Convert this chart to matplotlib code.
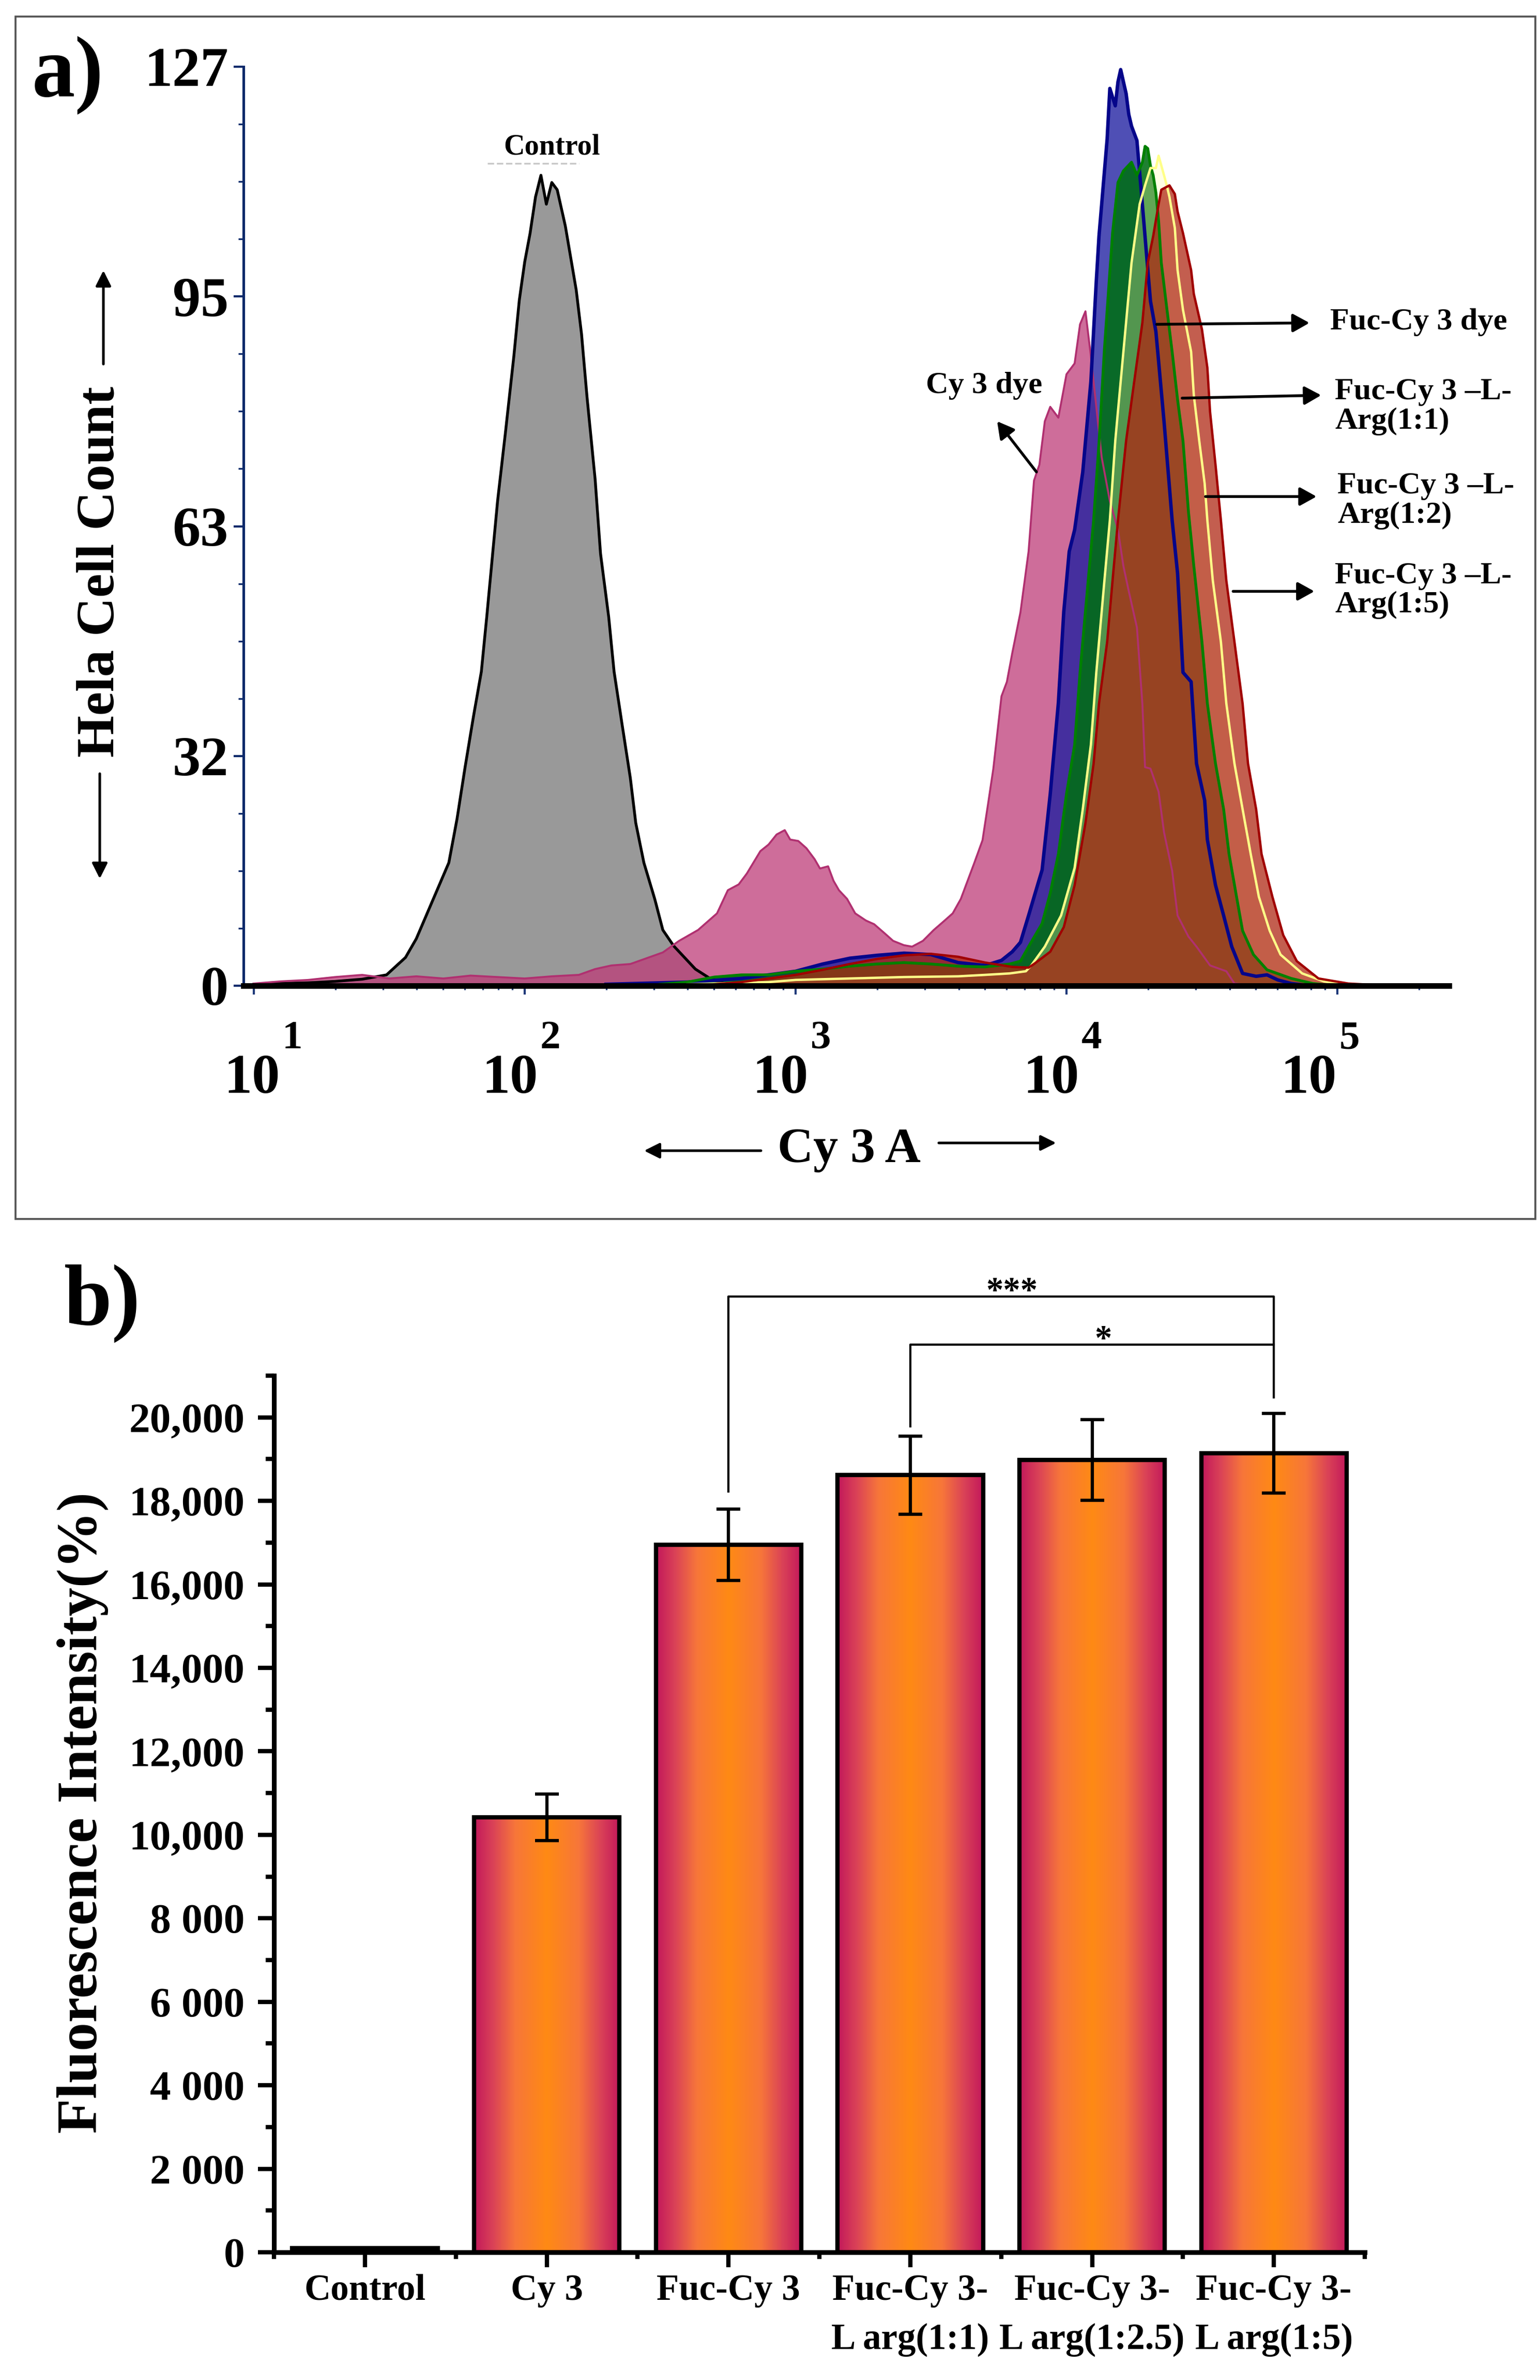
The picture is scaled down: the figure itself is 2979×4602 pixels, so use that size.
import numpy as np
import matplotlib
matplotlib.use("Agg")
import matplotlib.pyplot as plt
from matplotlib.colors import LinearSegmentedColormap
from matplotlib.patches import FancyArrowPatch, Rectangle
from matplotlib.ticker import FixedLocator, MultipleLocator, NullFormatter

plt.rcParams['font.family'] = ['Liberation Serif', 'DejaVu Serif']
plt.rcParams['font.weight'] = 'bold'

W, H, DPI = 2979, 4602, 300

# ---------------- panel a: Cy3-A histograms (x = log10 of Cy3-A, y = Hela cell count)
ctrl_log = [1.00, 1.10, 1.20, 1.30, 1.40, 1.49, 1.56, 1.60, 1.64, 1.68, 1.72, 1.75, 1.78, 1.81,
            1.84, 1.86, 1.88, 1.90, 1.93, 1.96, 1.98, 2.00, 2.02, 2.04, 2.06, 2.08, 2.10, 2.12,
            2.15, 2.19, 2.21, 2.23, 2.26, 2.28, 2.31, 2.33, 2.36, 2.39, 2.41, 2.44, 2.48, 2.51,
            2.55, 2.59, 2.63, 2.68, 2.72, 2.76]
ctrl_cnt = [0.2, 0.3, 0.4, 0.6, 0.9, 1.5, 3.9, 6.5, 10.0, 13.5, 17.0, 23.0, 30.2, 37.0,
            43.4, 51.0, 59.0, 67.0, 76.8, 87.0, 94.7, 100.0, 104.0, 109.0, 112.0, 108.0, 111.0, 110.0,
            105.0, 96.2, 90.0, 81.4, 70.0, 59.7, 51.0, 43.4, 36.0, 28.7, 22.5, 17.0, 12.0, 7.7,
            5.5, 3.9, 2.3, 1.1, 0.5, 0.0]

cy3_log = [1.00, 1.10, 1.20, 1.30, 1.40, 1.50, 1.60, 1.70, 1.80, 1.90, 2.00, 2.10, 2.20, 2.26,
           2.32, 2.39, 2.45, 2.51, 2.57, 2.64, 2.71, 2.75, 2.79, 2.82, 2.87, 2.90, 2.93, 2.96,
           2.98, 3.01, 3.04, 3.07, 3.09, 3.12, 3.14, 3.16, 3.19, 3.22, 3.26, 3.29, 3.33, 3.36,
           3.40, 3.43, 3.47, 3.51, 3.55, 3.58, 3.61, 3.63, 3.66, 3.69, 3.71, 3.73, 3.76, 3.78,
           3.80, 3.83, 3.86, 3.88, 3.90, 3.92, 3.94, 3.97, 4.00, 4.03, 4.05, 4.07, 4.09, 4.11,
           4.13, 4.16, 4.19, 4.21, 4.23, 4.26, 4.28, 4.29, 4.31, 4.34, 4.36, 4.39, 4.41, 4.45,
           4.48, 4.53, 4.59, 4.62, 4.70]
cy3_cnt = [0.3, 0.6, 0.8, 1.2, 1.5, 1.0, 1.3, 1.0, 1.4, 1.2, 1.0, 1.3, 1.5, 2.3,
           2.8, 3.0, 3.8, 4.6, 6.2, 7.7, 10.0, 13.2, 14.0, 15.5, 18.6, 19.5, 20.9, 21.5,
           20.2, 20.0, 19.0, 17.5, 16.2, 16.5, 14.5, 13.2, 12.0, 10.0, 9.0, 8.5, 7.2, 6.2,
           5.6, 5.4, 6.2, 7.7, 9.0, 10.0, 12.0, 14.0, 17.0, 20.1, 25.0, 30.0, 40.0, 42.0,
           46.0, 51.6, 60.0, 69.8, 72.0, 78.0, 80.0, 78.5, 84.5, 86.0, 91.4, 93.2, 87.0, 80.0,
           73.0, 67.0, 63.0, 58.0, 54.5, 49.5, 39.0, 30.2, 30.0, 26.8, 21.2, 15.9, 9.7, 6.8,
           5.4, 2.8, 2.0, 0.3, 0.0]

fuc_log = [2.30, 2.60, 2.80, 2.90, 3.00, 3.10, 3.20, 3.30, 3.40, 3.50, 3.60, 3.70, 3.76, 3.80,
           3.83, 3.86, 3.89, 3.91, 3.94, 3.97, 3.99, 4.01, 4.03, 4.06, 4.09, 4.11, 4.12, 4.15,
           4.16, 4.18, 4.19, 4.20, 4.22, 4.23, 4.24, 4.26, 4.28, 4.30, 4.31, 4.33, 4.36, 4.39,
           4.41, 4.43, 4.46, 4.48, 4.51, 4.52, 4.55, 4.58, 4.61, 4.65, 4.70, 4.74, 4.78, 4.83,
           4.90]
fuc_cnt = [0.2, 0.5, 1.0, 1.5, 2.0, 3.0, 3.8, 4.2, 4.5, 4.3, 3.2, 2.8, 3.5, 4.7,
           6.0, 9.7, 13.5, 16.0, 26.5, 39.1, 51.7, 60.0, 63.0, 71.0, 83.5, 97.4, 103.6, 117.0,
           124.0, 121.6, 124.9, 126.6, 123.3, 120.4, 118.8, 116.8, 108.0, 99.0, 94.6, 90.4, 78.0, 64.3,
           57.0, 43.3, 42.0, 30.7, 25.6, 20.2, 13.9, 9.7, 5.4, 1.7, 1.3, 1.5, 0.8, 0.3,
           0.0]

arg11_log = [2.50, 2.60, 2.70, 2.80, 2.90, 3.00, 3.10, 3.20, 3.30, 3.40, 3.50, 3.60, 3.70, 3.79,
             3.83, 3.86, 3.91, 3.94, 3.97, 4.00, 4.03, 4.05, 4.08, 4.10, 4.12, 4.14, 4.17, 4.19,
             4.21, 4.24, 4.26, 4.28, 4.29, 4.30, 4.31, 4.32, 4.33, 4.34, 4.35, 4.37, 4.39, 4.41,
             4.43, 4.45, 4.47, 4.50, 4.52, 4.55, 4.58, 4.60, 4.63, 4.65, 4.69, 4.74, 4.83, 4.91,
             5.00]
arg11_cnt = [0.2, 0.5, 1.2, 1.5, 1.5, 2.0, 2.3, 2.7, 3.0, 3.2, 3.0, 2.7, 2.6, 3.0,
             3.4, 5.4, 8.6, 12.8, 18.2, 26.5, 33.3, 43.3, 56.0, 64.3, 75.0, 88.0, 104.0, 111.0,
             112.6, 113.8, 112.0, 113.8, 116.0, 115.7, 113.3, 112.0, 109.6, 105.7, 99.9, 93.7, 87.6, 81.0,
             75.3, 65.6, 58.0, 47.5, 39.0, 30.7, 24.4, 18.2, 11.8, 7.6, 4.3, 2.2, 1.0, 0.3,
             0.0]

arg12_log = [2.60, 2.70, 2.90, 3.00, 3.20, 3.40, 3.60, 3.70, 3.79, 3.85, 3.87, 3.92, 3.98, 4.03,
             4.06, 4.09, 4.11, 4.14, 4.16, 4.18, 4.21, 4.24, 4.27, 4.29, 4.31, 4.33, 4.34, 4.36,
             4.37, 4.38, 4.40, 4.41, 4.43, 4.46, 4.47, 4.49, 4.51, 4.52, 4.54, 4.57, 4.59, 4.62,
             4.65, 4.68, 4.71, 4.75, 4.79, 4.87, 4.95, 5.05]
arg12_cnt = [0.2, 0.3, 0.5, 0.8, 1.0, 1.2, 1.3, 1.5, 1.7, 2.0, 2.8, 5.4, 9.7, 16.3,
             24.4, 33.3, 43.3, 56.0, 64.3, 75.3, 87.6, 99.9, 108.0, 110.6, 113.0, 113.0, 114.7, 112.0,
             110.6, 109.0, 104.7, 98.9, 93.4, 87.6, 81.6, 75.3, 69.4, 64.3, 56.0, 47.5, 39.0, 30.7,
             24.4, 18.2, 12.3, 7.6, 4.3, 1.7, 0.6, 0.0]

arg15_log = [2.70, 2.80, 2.90, 3.00, 3.10, 3.20, 3.30, 3.40, 3.50, 3.60, 3.70, 3.80, 3.86, 3.88,
             3.94, 3.99, 4.03, 4.07, 4.10, 4.12, 4.15, 4.17, 4.19, 4.22, 4.25, 4.28, 4.30, 4.32,
             4.34, 4.35, 4.38, 4.40, 4.41, 4.43, 4.46, 4.47, 4.50, 4.52, 4.53, 4.55, 4.57, 4.59,
             4.62, 4.65, 4.67, 4.70, 4.72, 4.76, 4.80, 4.85, 4.93, 5.04, 5.14, 5.25]
arg15_cnt = [0.2, 0.5, 1.0, 1.5, 2.2, 3.0, 3.7, 4.2, 4.4, 4.0, 3.2, 2.6, 2.5, 3.0,
             4.7, 8.1, 13.9, 22.5, 30.7, 39.0, 47.5, 56.0, 64.3, 75.3, 83.5, 91.6, 99.9, 103.6,
             108.0, 110.0, 110.6, 109.4, 107.0, 104.0, 98.9, 95.6, 90.7, 85.4, 79.3, 72.0, 64.3, 56.0,
             47.5, 39.0, 30.7, 24.4, 18.2, 12.3, 7.0, 3.4, 1.0, 0.3, 0.1, 0.0]

count_ticks = [0, 31.75, 63.5, 95.25, 127]
count_labels = ['0', '32', '63', '95', '127']

# ---------------- panel b: mean fluorescence intensity
groups = ['Control', 'Cy 3', 'Fuc-Cy 3', 'Fuc-Cy 3-\nL arg(1:1)',
          'Fuc-Cy 3-\nL arg(1:2.5)', 'Fuc-Cy 3-\nL arg(1:5)']
intensity = [100, 10420, 16950, 18620, 18980, 19140]
intensity_err = [0, 560, 850, 935, 965, 950]
int_ticks = [0, 2000, 4000, 6000, 8000, 10000, 12000, 14000, 16000, 18000, 20000]
int_labels = ['0', '2 000', '4 000', '6 000', '8 000', '10,000', '12,000',
              '14,000', '16,000', '18,000', '20,000']


def fx(px):
    return px / W


def fy(py):
    return 1 - py / H


fig = plt.figure(figsize=(W / DPI, H / DPI), dpi=DPI)
fig.patch.set_facecolor('white')

# frame around panel a
fig.add_artist(Rectangle((fx(30), fy(2357)), fx(2970) - fx(30), fy(32) - fy(2357),
                         transform=fig.transFigure, fill=False, ec='#555555', lw=0.9))

# ================= panel a
ax = fig.add_axes([fx(471), fy(1906), (2803 - 471) / W, (1906 - 129) / H])
ax.set_xscale('log')

curves = [
    (ctrl_log, ctrl_cnt, '#999999', 1.0, 'black', 1.3),
    (cy3_log, cy3_cnt, (190/255, 60/255, 120/255), 0.75, '#B03070', 0.9),
    (fuc_log, fuc_cnt, (30/255, 30/255, 160/255), 0.78, '#06068A', 1.6),
    (arg11_log, arg11_cnt, (0, 110/255, 20/255), 0.88, '#008000', 1.3),
    (arg12_log, arg12_cnt, (1, 1, 170/255), 0.30, '#FFFF88', 1.1),
    (arg15_log, arg15_cnt, (175/255, 40/255, 20/255), 0.75, '#A00000', 1.1),
]
for i, (lg, cnt, fc, a, ec, lw) in enumerate(curves):
    ax.fill_between(10 ** np.array(lg), 0, cnt, color=fc, alpha=a, lw=0, zorder=1 + i)
for i, (lg, cnt, fc, a, ec, lw) in enumerate(curves):
    ax.plot(10 ** np.array(lg), cnt, color=ec, lw=lw, zorder=10 + i)

ax.set_xlim(10 ** 0.962, 10 ** 5.412)
ax.set_ylim(0, 127)
for s in ['top', 'right']:
    ax.spines[s].set_visible(False)
ax.spines['left'].set_color('#0D2A6B')
ax.spines['left'].set_linewidth(1.2)
ax.spines['bottom'].set_color('black')
ax.spines['bottom'].set_linewidth(2.6)
ax.spines['bottom'].set_zorder(30)

ax.xaxis.set_major_locator(FixedLocator([10.0 ** k for k in range(1, 6)]))
ax.xaxis.set_minor_locator(FixedLocator([m * 10.0 ** k for k in range(0, 6) for m in range(2, 10)]))
ax.xaxis.set_major_formatter(NullFormatter())
ax.xaxis.set_minor_formatter(NullFormatter())
ax.tick_params(axis='x', which='major', direction='out', length=4, width=1.0, color='#1F3A7A')
ax.tick_params(axis='x', which='minor', direction='out', length=2, width=0.8, color='#1F3A7A')

ax.set_yticks(count_ticks)
ax.set_yticklabels(count_labels, fontsize=26)
ax.yaxis.set_minor_locator(MultipleLocator(31.75 / 4))
ax.tick_params(axis='y', which='major', direction='out', length=4.5, width=1.0, color='#0D2A6B', pad=2.5)
ax.tick_params(axis='y', which='minor', direction='out', length=2.5, width=0.8, color='#0D2A6B')

# decade labels 10^k
tens_x = [487, 986, 1510, 2034, 2532]
for k, px in zip(range(1, 6), tens_x):
    fig.text(fx(px), fy(2113), '10', fontsize=26, ha='center', va='baseline')
    fig.text(fx(px + 78), fy(2027), str(k), fontsize=19, ha='center', va='baseline')

# axis titles with arrows
fig.text(fx(195), fy(1105), 'Hela Cell Count', rotation=90, fontsize=25, ha='center', va='center')
fig.text(fx(1642), fy(2247), 'Cy 3 A', fontsize=23, ha='center', va='baseline')
arrow_kw = dict(transform=fig.transFigure, arrowstyle='-|>,head_length=0.6,head_width=0.3',
                mutation_scale=10, lw=1.2, color='black', shrinkA=0, shrinkB=0)
for tail, head in [((200, 704), (200, 523)), ((193, 1496), (193, 1699)),
                   ((1472, 2225), (1246, 2225)), ((1816, 2210), (2043, 2210))]:
    fig.add_artist(FancyArrowPatch((fx(tail[0]), fy(tail[1])), (fx(head[0]), fy(head[1])), **arrow_kw))

# curve annotations
ax.text(10 ** 2.10, 115.9, 'Control', fontsize=13.5, ha='center', va='center', zorder=40)
ax.plot([10 ** 1.863, 10 ** 2.201], [113.6, 113.6], color='#C8C8C8', ls='--', lw=0.8, zorder=40)
ax.text(10 ** 3.696, 82.9, 'Cy 3 dye', fontsize=14.5, ha='center', va='center', zorder=40)

notes = [
    ('Fuc-Cy 3 dye', 4.974, 91.7, (4.333, 91.4), (4.897, 91.6)),
    ('Fuc-Cy 3 \u2013L-\nArg(1:1)', 4.991, 80.0, (4.427, 81.2), (4.940, 81.6)),
    ('Fuc-Cy 3 \u2013L-\nArg(1:2)', 5.000, 67.0, (4.513, 67.6), (4.923, 67.6)),
    ('Fuc-Cy 3 \u2013L-\nArg(1:5)', 4.991, 54.6, (4.615, 54.5), (4.915, 54.5)),
]
akw = dict(arrowstyle='-|>,head_length=0.65,head_width=0.36', mutation_scale=10,
           lw=1.3, color='black', shrinkA=0, shrinkB=0)
for txt, lx, ly, tail, head in notes:
    ax.text(10 ** lx, ly, txt, fontsize=14.5, ha='left', va='center', linespacing=1.05,
            zorder=40, clip_on=False)
    ax.annotate('', xy=(10 ** head[0], head[1]), xytext=(10 ** tail[0], tail[1]),
                arrowprops=akw, zorder=40, annotation_clip=False)
ax.annotate('', xy=(10 ** 3.744, 78.0), xytext=(10 ** 3.889, 71.0), arrowprops=akw, zorder=40)

fig.text(fx(62), fy(70), 'a)', fontsize=40, ha='left', va='top')

# ================= panel b
bx = fig.add_axes([fx(530), fy(4355), (2640 - 530) / W, (4355 - 2660) / H])
xpos = np.arange(len(groups))
bw = 0.8
bar_cmap = LinearSegmentedColormap.from_list('bar', [
    (0.0, '#C2185B'), (0.13, '#DA4257'), (0.28, '#F7763A'), (0.5, '#FF8A14'),
    (0.72, '#F7763A'), (0.87, '#DA4257'), (1.0, '#C2185B')])
grad = np.linspace(0, 1, 256).reshape(1, -1)
for xi, v in zip(xpos, intensity):
    bx.imshow(grad, cmap=bar_cmap, aspect='auto', interpolation='bilinear',
              extent=[xi - bw / 2, xi + bw / 2, 0, v], zorder=2)
bx.bar(xpos, intensity, width=bw, fill=False, edgecolor='black', lw=2.0, zorder=3)
bx.errorbar(xpos[1:], intensity[1:], yerr=intensity_err[1:], fmt='none', ecolor='black',
            elinewidth=1.5, capsize=5.5, capthick=1.5, zorder=4)

bx.set_xlim(-0.5, 5.5)
bx.set_ylim(0, 21000)
for s in ['top', 'right']:
    bx.spines[s].set_visible(False)
for s in ['left', 'bottom']:
    bx.spines[s].set_linewidth(2.2)
    bx.spines[s].set_zorder(5)

bx.set_yticks(int_ticks)
bx.set_yticklabels(int_labels, fontsize=19.5)
bx.yaxis.set_minor_locator(MultipleLocator(1000))
bx.tick_params(axis='y', which='major', direction='out', length=7.5, width=2.0, pad=6)
bx.tick_params(axis='y', which='minor', direction='out', length=3.8, width=2.0)
bx.set_xticks(xpos)
bx.set_xticklabels(groups, fontsize=17, linespacing=1.6)
bx.xaxis.set_minor_locator(FixedLocator(np.arange(-0.5, 6.0, 1.0)))
bx.tick_params(axis='x', which='major', direction='out', length=7, width=2.0, pad=3)
bx.tick_params(axis='x', which='minor', direction='out', length=3, width=2.0)

# significance brackets: (left bar, right bar, height, label, left foot, right foot)
brackets = [(2, 5, 22890, '***', 18220, 20480), (3, 5, 21740, '*', 19790, 21740)]
for b0, b1, top, lab, f0, f1 in brackets:
    bx.plot([b0, b0, b1, b1], [f0, top, top, f1], color='black', lw=1.0, clip_on=False, zorder=6)
    bx.text((b0 + b1) / 2 + 0.06, top - 90, lab, fontsize=16, ha='center', va='baseline')

fig.text(fx(160), fy(3505), 'Fluorescence Intensity(%)', rotation=90, fontsize=26.5,
         ha='center', va='center')
fig.text(fx(124), fy(2445), 'b)', fontsize=40, ha='left', va='top')

fig.savefig('out.png', dpi=DPI, facecolor='white')
